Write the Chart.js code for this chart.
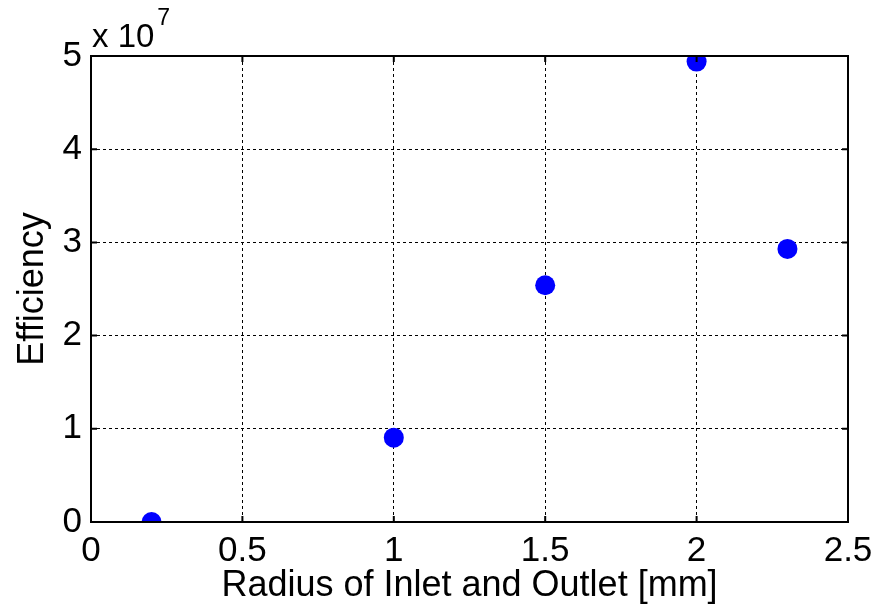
<!DOCTYPE html>
<html>
<head>
<meta charset="utf-8">
<script src="https://cdn.jsdelivr.net/npm/chart.js@4/dist/chart.umd.min.js"></script>
<style>
  html, body { margin: 0; padding: 0; background: #fff; }
  #wrap { width: 877px; height: 608px; }
</style>
</head>
<body>
<div id="wrap"><canvas id="grafico" width="877" height="608"></canvas></div>
<script>
// ─── Dados ───────────────────────────────────────────
const raio       = [0.2, 1.0, 1.5, 2.0, 2.3];          // mm
const eficiencia = [0, 0.905e7, 2.54e7, 4.94e7, 2.93e7];
const ESCALA     = 1e7;

const FONTE = "'Liberation Sans', Arial, sans-serif";

// ─── Moldura + ticks internos (estilo MATLAB) ────────
const molduraPlugin = {
  id: 'moldura',
  afterDraw(chart) {
    const { ctx, chartArea: a, scales } = chart;
    ctx.save();
    ctx.strokeStyle = '#000';
    ctx.lineWidth = 2;
    ctx.strokeRect(a.left, a.top, a.right - a.left, a.bottom - a.top);

    const tam = 6;
    ctx.beginPath();
    scales.x.ticks.forEach(t => {
      const px = scales.x.getPixelForValue(t.value);
      ctx.moveTo(px, a.bottom); ctx.lineTo(px, a.bottom - tam);
      ctx.moveTo(px, a.top);    ctx.lineTo(px, a.top + tam);
    });
    scales.y.ticks.forEach(t => {
      const py = scales.y.getPixelForValue(t.value);
      ctx.moveTo(a.left, py);  ctx.lineTo(a.left + tam, py);
      ctx.moveTo(a.right, py); ctx.lineTo(a.right - tam, py);
    });
    ctx.stroke();

    // multiplicador "x 10^7"
    ctx.fillStyle = '#000';
    ctx.textBaseline = 'alphabetic';
    ctx.textAlign = 'left';
    ctx.font = `33px ${FONTE}`;
    const base = 'x 10';
    ctx.fillText(base, a.left + 1, a.top - 9);
    const w = ctx.measureText(base).width;
    ctx.font = `23px ${FONTE}`;
    ctx.fillText('7', a.left + 4 + w, a.top - 31);
    ctx.restore();
  },
};

new Chart(document.getElementById('grafico'), {
  type: 'scatter',
  data: {
    datasets: [{
      data: raio.map((r, i) => ({ x: r, y: eficiencia[i] })),
      backgroundColor: '#0000ff',
      borderWidth: 0,
      pointRadius: 10,
      pointHoverRadius: 10,
    }],
  },
  options: {
    responsive: false,
    animation: false,
    layout: { padding: { top: 56, right: 29, left: 0, bottom: 0 } },
    plugins: { legend: { display: false }, tooltip: { enabled: false } },
    scales: {
      x: {
        type: 'linear',
        min: 0, max: 2.5,
        afterFit: s => { s.height = 86; s.paddingLeft = 0; s.paddingRight = 0; },
        ticks: {
          stepSize: 0.5, color: '#000', padding: 8, font: { size: 35, family: FONTE },
          callback: v => String(Number(v)),
        },
        grid: { color: '#000', lineWidth: 1, drawTicks: false },
        border: { display: false, dash: [3, 3] },
        title: {
          display: true, text: 'Radius of Inlet and Outlet [mm]', color: '#000',
          font: { size: 36, family: FONTE }, padding: { top: 0, bottom: 0 },
        },
      },
      y: {
        min: 0, max: 5e7,
        afterFit: s => { s.width = 91; s.paddingTop = 0; s.paddingBottom = 0; },
        ticks: {
          stepSize: 1e7, color: '#000', padding: 9, font: { size: 35, family: FONTE },
          callback: v => String(v / ESCALA),
        },
        grid: { color: '#000', lineWidth: 1, drawTicks: false },
        border: { display: false, dash: [3, 3] },
        title: {
          display: true, text: 'Efficiency', color: '#000',
          font: { size: 36, family: FONTE }, padding: { top: 11, bottom: 0 },
        },
      },
    },
  },
  plugins: [molduraPlugin],
});
</script>
</body>
</html>
